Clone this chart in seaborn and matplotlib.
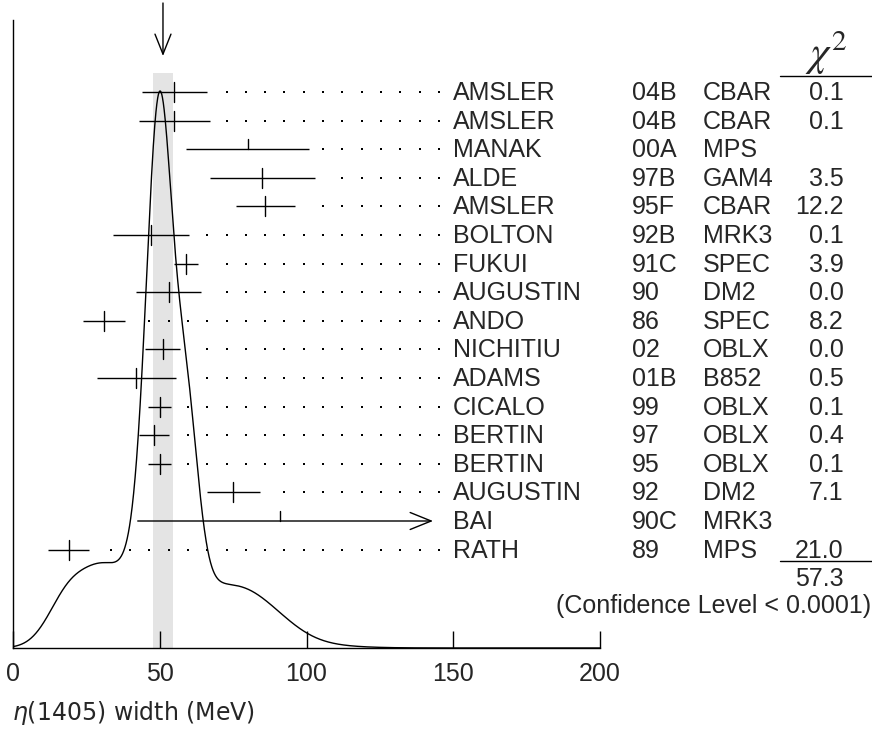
import numpy as np
import matplotlib
matplotlib.use("Agg")
import matplotlib.pyplot as plt
import seaborn as sns
import pandas as pd

# ---------------- data ----------------
authors = ["AMSLER", "AMSLER", "MANAK", "ALDE", "AMSLER", "BOLTON", "FUKUI",
           "AUGUSTIN", "ANDO", "NICHITIU", "ADAMS", "CICALO", "BERTIN", "BERTIN",
           "AUGUSTIN", "BAI", "RATH"]
years = ["04B", "04B", "00A", "97B", "95F", "92B", "91C", "90", "86", "02",
         "01B", "99", "97", "95", "92", "90C", "89"]
experiments = ["CBAR", "CBAR", "MPS", "GAM4", "CBAR", "MRK3", "SPEC", "DM2",
               "SPEC", "OBLX", "B852", "OBLX", "OBLX", "OBLX", "DM2", "MRK3", "MPS"]
values = [55, 55, 80, 85, 86, 47, 59, 53, 31, 51, 42, 50, 48, 50, 75, 91, 19]
err_lo = [11, 12, 21, 18, 10, 13, 4, 11, 7, 6, 13.5, 4, 5, 4, 9, 48.5, 7]
err_hi = [11, 12, 21, 18, 10, 13, 4, 11, 7, 6, 13.5, 4, 5, 4, 9, 67, 7]
used_in_fit = [True, True, False, True, True, True, True, True, True, True,
               True, True, True, True, True, False, True]
chi2 = ["0.1", "0.1", "", "3.5", "12.2", "0.1", "3.9", "0.0", "8.2", "0.0",
        "0.5", "0.1", "0.4", "0.1", "7.1", "", "21.0"]
chi2_total = "57.3"
confidence = "(Confidence Level < 0.0001)"
avg_value, avg_error = 51.1, 3.4
xticks = [0, 50, 100, 150, 200]
xlabel = r"$\eta$(1405) width (MeV)"

# ---------------- layout ----------------
W, H = 872, 751
X0, X1 = 13, 600          # pixel positions of 0 and 200 MeV
Y_AX, Y_TOP = 648, 20     # axis line and top of left spine (pixels)
ROW0, DROW = 92, 28.6     # first row pixel, row pitch


def row_of(py):
    return (py - ROW0) / DROW


def mev_of(px):
    return (px - X0) / (X1 - X0) * 200.0


FONT = "Liberation Sans"
FS = 18

sns.set_theme(style="white")
plt.rcParams["font.family"] = [FONT, "DejaVu Sans"]
plt.rcParams["mathtext.fontset"] = "dejavusans"

fig = plt.figure(figsize=(W / 100, H / 100), dpi=100)
ax = fig.add_axes([X0 / W, 1 - Y_AX / H, (X1 - X0) / W, (Y_AX - Y_TOP) / H])
ybase = row_of(Y_AX)
ax.set_xlim(0, 200)
ax.set_ylim(ybase, row_of(Y_TOP))

df = pd.DataFrame(dict(author=authors, year=years, exp=experiments, value=values,
                       lo=err_lo, hi=err_hi, used=used_in_fit, chi2=chi2))
df["row"] = np.arange(len(df))

# average band
ax.fill_betweenx([row_of(73), ybase], avg_value - avg_error, avg_value + avg_error,
                 color="#e4e4e4", lw=0, zorder=0)

# ideogram curve (sum of Gaussians, area ~ 1/sigma) for points used in fit
xs = np.linspace(0, 200, 2001)
fit = df[df.used]
curve = np.zeros_like(xs)
for v, s in zip(fit.value, (fit.lo + fit.hi) / 2):
    curve += np.exp(-0.5 * ((xs - v) / s) ** 2) / s ** 2
curve /= curve.max()
peak_row = row_of(91)
cdf = pd.DataFrame(dict(x=xs, y=ybase - curve * (ybase - peak_row)))
sns.lineplot(data=cdf, x="x", y="y", ax=ax, color="black", lw=1.0, zorder=3)

# error bars
bar_limit = mev_of(433)
dot_grid = np.arange(mev_of(110.7) - 6.576 * 5, mev_of(442), 6.576)
tick_h = 10 / DROW
for _, r in df.iterrows():
    lo = r.value - r.lo
    hi = r.value + r.hi
    y = r.row
    if hi > bar_limit:
        ax.annotate("", xy=(bar_limit, y), xytext=(lo, y),
                    arrowprops=dict(arrowstyle="->,head_length=0.42,head_width=0.17",
                                    mutation_scale=36, lw=1.0, color="black",
                                    shrinkA=0, shrinkB=0), annotation_clip=False)
        hi_end = bar_limit
    else:
        ax.plot([lo, hi], [y, y], color="black", lw=1.0, solid_capstyle="butt", zorder=4)
        hi_end = hi
    if r.used:
        ax.plot([r.value, r.value], [y - tick_h, y + tick_h], color="black", lw=1.0, zorder=4)
    else:
        ax.plot([r.value, r.value], [y - tick_h, y], color="black", lw=1.0, zorder=4)
    dots = dot_grid[dot_grid > hi_end + 4.1]
    if len(dots):
        sns.scatterplot(x=dots, y=np.full(len(dots), float(y)), ax=ax, s=2.5,
                        color="black", marker="s", linewidth=0, zorder=4, legend=False)
    base = y + 0.28
    ax.text(mev_of(452.5), base, r.author, fontsize=FS, va="baseline", ha="left")
    ax.text(mev_of(631.5), base, r.year, fontsize=FS, va="baseline", ha="left")
    ax.text(mev_of(703), base, r.exp, fontsize=FS, va="baseline", ha="left")
    if r.chi2:
        ax.text(mev_of(843.5), base, r.chi2, fontsize=FS, va="baseline", ha="right")

# chi^2 header and summary
ax.text(mev_of(826), row_of(66), r"$\chi^2$", fontsize=30, va="baseline", ha="center",
        math_fontfamily="stix")
ax.plot([mev_of(780), mev_of(872)], [row_of(76), row_of(76)], color="black", lw=1.0,
        clip_on=False)
ax.plot([mev_of(780), mev_of(872)], [row_of(561), row_of(561)], color="black", lw=1.0,
        clip_on=False)
ax.text(mev_of(844), row_of(578) + 0.28, chi2_total, fontsize=FS, va="baseline", ha="right")
ax.text(mev_of(871), row_of(605) + 0.28, confidence, fontsize=FS, va="baseline", ha="right")

# arrow at average
ax.annotate("", xy=(avg_value, row_of(56)), xytext=(avg_value, row_of(3)),
            arrowprops=dict(arrowstyle="->,head_length=0.4,head_width=0.16",
                            mutation_scale=36, lw=1.0, color="black",
                            shrinkA=0, shrinkB=0), annotation_clip=False)

# axes styling
for s in ["top", "right"]:
    ax.spines[s].set_visible(False)
for s in ["left", "bottom"]:
    ax.spines[s].set_color("black")
    ax.spines[s].set_linewidth(1.0)
ax.set_xticks(xticks)
ax.set_xticklabels([str(t) for t in xticks])
ax.set_yticks([])
ax.tick_params(axis="x", direction="in", length=12, width=1.0, color="black",
               labelsize=FS, pad=10, bottom=True)
ax.set_xlabel("")
ax.set_ylabel("")
fig.text(12 / W, 1 - 713 / H, xlabel, fontsize=17, ha="left", va="center",
         family="DejaVu Sans")

fig.savefig("out.png", dpi=100)
